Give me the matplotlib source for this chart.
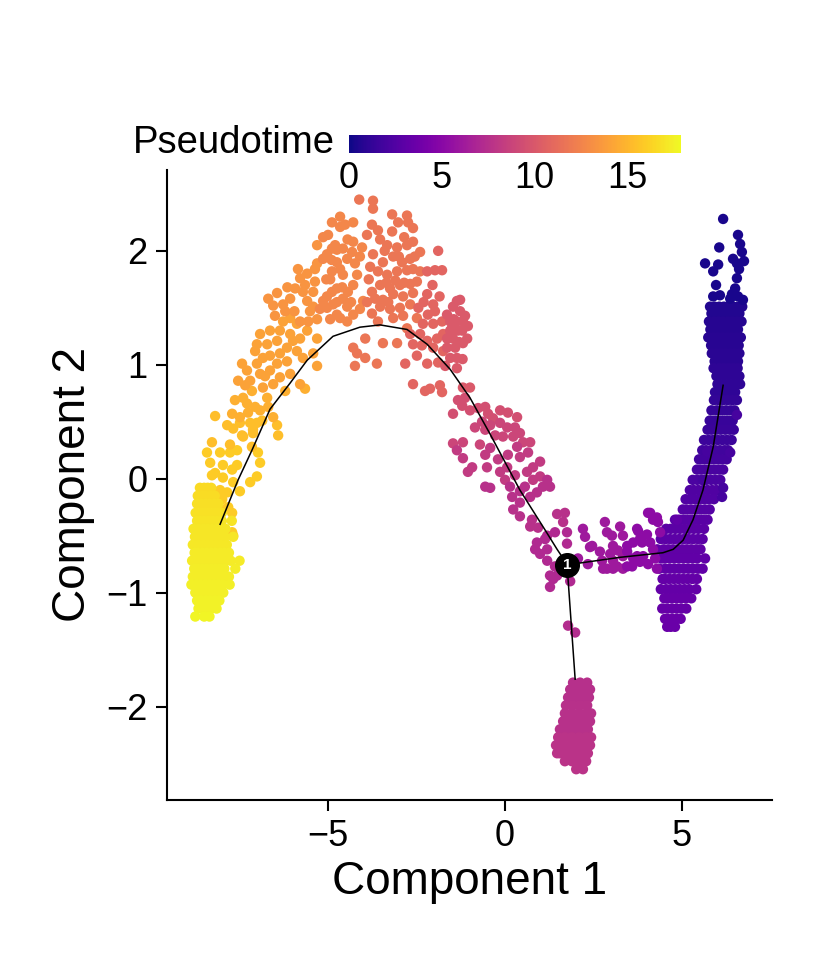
import numpy as np
import matplotlib
matplotlib.use("Agg")
import matplotlib.pyplot as plt
from matplotlib import colors, cm

plt.rcParams['font.family'] = ['Liberation Sans', 'DejaVu Sans']

T_MAX = 17.9  # top of the pseudotime colour scale

# dense clusters, read row by row: (component 2, pseudotime, [component 1 ...])
yellow_rows = [
    (-0.08, 16.6, [-8.62, -8.50, -8.40, -8.30]),
    (-0.15, 16.7, [-8.68, -8.55, -8.45, -8.32, -8.20]),
    (-0.22, 16.8, [-8.70, -8.58, -8.46, -8.35, -8.22, -8.10]),
    (-0.30, 16.9, [-8.74, -8.60, -8.48, -8.36, -8.24, -8.12, -8.00]),
    (-0.37, 17.0, [-8.70, -8.62, -8.50, -8.38, -8.26, -8.14, -8.00, -7.72]),
    (-0.44, 17.1, [-8.80, -8.65, -8.52, -8.40, -8.28, -8.15, -8.02, -7.90]),
    (-0.51, 17.1, [-8.76, -8.67, -8.55, -8.42, -8.30, -8.18, -8.05, -7.92, -7.68]),
    (-0.58, 17.2, [-8.82, -8.65, -8.52, -8.40, -8.28, -8.15, -8.03, -7.86]),
    (-0.65, 17.3, [-8.77, -8.68, -8.55, -8.43, -8.30, -8.18, -8.05, -7.93, -7.80]),
    (-0.72, 17.3, [-8.84, -8.65, -8.52, -8.40, -8.28, -8.15, -8.03, -7.90, -7.75, -7.50]),
    (-0.79, 17.4, [-8.78, -8.68, -8.55, -8.43, -8.30, -8.18, -8.05, -7.93, -7.62]),
    (-0.86, 17.4, [-8.82, -8.70, -8.57, -8.45, -8.32, -8.20, -8.08, -7.95, -7.80]),
    (-0.93, 17.5, [-8.86, -8.72, -8.60, -8.47, -8.35, -8.22, -8.10, -7.98, -7.78]),
    (-1.00, 17.5, [-8.75, -8.62, -8.50, -8.38, -8.25, -8.12, -7.96]),
    (-1.07, 17.6, [-8.70, -8.58, -8.45, -8.33, -8.20, -8.07]),
    (-1.14, 17.6, [-8.66, -8.55, -8.42, -8.30, -8.15]),
    (-1.21, 17.7, [-8.75, -8.50, -8.35]),
]

right_arm_rows = [
    (1.51, 0.6, [5.79, 5.92, 6.05, 6.18, 6.31, 6.44, 6.57, 6.70]),
    (1.45, 0.6, [5.83, 5.93, 6.06, 6.19, 6.32, 6.45, 6.62]),
    (1.38, 0.7, [5.76, 5.90, 6.03, 6.16, 6.29, 6.42, 6.55, 6.68]),
    (1.31, 0.7, [5.80, 5.89, 6.02, 6.15, 6.28, 6.41, 6.58]),
    (1.24, 0.8, [5.74, 5.88, 6.01, 6.14, 6.27, 6.40, 6.53, 6.66]),
    (1.17, 0.8, [5.82, 5.92, 6.05, 6.18, 6.31, 6.44, 6.60]),
    (1.10, 0.9, [5.84, 5.97, 6.10, 6.23, 6.36, 6.49, 6.62]),
    (1.03, 0.9, [5.92, 6.03, 6.16, 6.29, 6.42, 6.58]),
    (0.97, 1.0, [5.89, 6.05, 6.18, 6.31, 6.44, 6.57]),
    (0.90, 1.0, [5.97, 6.08, 6.21, 6.34, 6.47, 6.62]),
    (0.83, 1.1, [6.00, 6.12, 6.25, 6.38, 6.51, 6.64]),
    (0.76, 1.1, [5.93, 6.08, 6.21, 6.34, 6.50]),
    (0.69, 1.2, [5.90, 6.03, 6.16, 6.29, 6.42, 6.55]),
    (0.60, 1.3, [5.83, 5.98, 6.11, 6.24, 6.37, 6.48]),
    (0.51, 1.4, [5.78, 5.91, 6.04, 6.17, 6.30, 6.43]),
    (0.43, 1.5, [5.72, 5.83, 5.96, 6.09, 6.22, 6.35, 6.46]),
    (0.34, 1.6, [5.62, 5.75, 5.88, 6.01, 6.14, 6.27, 6.40]),
    (0.25, 1.8, [5.57, 5.68, 5.81, 5.94, 6.07, 6.20, 6.30]),
    (0.17, 1.9, [5.48, 5.61, 5.74, 5.87, 6.00, 6.13, 6.26]),
    (0.08, 2.1, [5.42, 5.53, 5.66, 5.79, 5.92, 6.05, 6.16]),
    (-0.01, 2.2, [5.30, 5.43, 5.56, 5.69, 5.82, 5.95, 6.08]),
    (-0.10, 2.4, [5.22, 5.33, 5.46, 5.59, 5.72, 5.85, 5.97]),
    (-0.18, 2.5, [5.10, 5.23, 5.36, 5.49, 5.62, 5.75, 5.90]),
    (-0.27, 2.6, [5.02, 5.13, 5.26, 5.39, 5.52, 5.65, 5.78]),
    (-0.36, 2.8, [4.80, 4.93, 5.06, 5.19, 5.32, 5.45, 5.58, 5.72]),
    (-0.44, 2.9, [4.55, 4.68, 4.81, 4.94, 5.07, 5.20, 5.33, 5.46, 5.62]),
    (-0.53, 3.0, [4.40, 4.53, 4.66, 4.79, 4.92, 5.05, 5.18, 5.31, 5.45, 5.58]),
    (-0.62, 3.1, [4.30, 4.48, 4.61, 4.74, 4.87, 5.00, 5.13, 5.26, 5.40, 5.52]),
    (-0.70, 3.2, [4.42, 4.51, 4.64, 4.77, 4.90, 5.03, 5.16, 5.29, 5.42, 5.65]),
    (-0.79, 3.2, [4.36, 4.53, 4.66, 4.79, 4.92, 5.05, 5.18, 5.31, 5.45, 5.58]),
    (-0.88, 3.3, [4.45, 4.51, 4.64, 4.77, 4.90, 5.03, 5.16, 5.29, 5.42]),
    (-0.97, 3.3, [4.40, 4.55, 4.68, 4.81, 4.94, 5.07, 5.20, 5.40]),
    (-1.05, 3.4, [4.50, 4.58, 4.71, 4.84, 4.97, 5.10, 5.26]),
    (-1.14, 3.4, [4.44, 4.59, 4.72, 4.85, 4.98, 5.12]),
    (-1.23, 3.5, [4.52, 4.59, 4.72, 4.85, 4.96]),
    (-1.30, 3.5, [4.58, 4.68, 4.80]),
]

branch_rows = [
    (-1.79, 7.5, [1.92, 2.12, 2.32]),
    (-1.85, 7.5, [1.84, 2.03, 2.23, 2.40]),
    (-1.92, 7.5, [1.78, 1.98, 2.18, 2.37]),
    (-1.99, 7.6, [1.72, 1.92, 2.12, 2.32]),
    (-2.06, 7.6, [1.69, 1.89, 2.09, 2.29, 2.43]),
    (-2.13, 7.6, [1.64, 1.84, 2.03, 2.23, 2.40]),
    (-2.20, 7.6, [1.55, 1.75, 1.95, 2.15, 2.34]),
    (-2.27, 7.7, [1.50, 1.69, 1.89, 2.09, 2.29, 2.43]),
    (-2.34, 7.7, [1.44, 1.64, 1.84, 2.03, 2.23, 2.40]),
    (-2.41, 7.7, [1.47, 1.55, 1.75, 1.95, 2.15, 2.34]),
    (-2.48, 7.7, [1.69, 1.89, 2.09, 2.29]),
    (-2.55, 7.7, [2.01, 2.20]),
]

# sparse cells, grouped by pseudotime: (pseudotime, [(component 1, component 2), ...])
sparse_groups = [
    (16.0, [(-8.42, 0.23), (-8.05, 0.23), (-7.77, 0.23), (-7.57, 0.25), (-6.98, 0.23),
            (-6.92, 0.14), (-7.01, 0.02), (-7.20, -0.03), (-7.49, -0.11), (-8.33, 0.14),
            (-8.19, 0.05), (-7.97, 0.12), (-7.71, 0.08), (-7.57, 0.12), (-7.97, 0.01),
            (-7.68, -0.03), (-8.28, 0.03), (-8.05, -0.10), (-7.85, -0.12), (-7.99, -0.18),
            (-7.82, -0.25), (-7.71, -0.30), (-7.71, -0.47), (-7.68, -0.50), (-7.97, -0.27)]),
    (15.4, [(-7.85, 0.47), (-7.68, 0.44), (-7.49, 0.49), (-7.01, 0.49), (-6.44, 0.47),
            (-6.41, 0.38), (-7.12, 0.40), (-7.43, 0.38), (-7.77, 0.30), (-8.28, 0.32),
            (-7.15, 0.28), (-8.19, 0.55), (-7.20, 0.49), (-7.12, 0.43), (-7.40, 0.37),
            (-6.86, 0.51)]),
    (14.7, [(-7.71, 0.57), (-7.49, 0.54), (-7.63, 0.69), (-7.40, 0.71), (-7.29, 0.66),
            (-7.15, 0.77), (-7.06, 0.63), (-6.92, 0.60), (-6.72, 0.71), (-6.55, 0.54),
            (-5.65, 0.79), (-7.26, 0.58), (-6.69, 0.63), (-6.21, 0.77)]),
    (14.1, [(-6.84, 0.80), (-7.43, 1.01), (-7.29, 0.95), (-7.01, 1.01), (-6.92, 0.92),
            (-6.64, 0.95), (-6.44, 1.01), (-6.36, 0.89), (-6.55, 0.83), (-6.84, 1.06),
            (-7.01, 1.18), (-6.72, 1.18), (-6.44, 1.21), (-6.36, 1.10), (-6.16, 1.03),
            (-6.16, 1.15), (-6.92, 1.27), (-6.64, 1.30), (-6.36, 1.30), (-6.07, 1.27),
            (-5.99, 1.21), (-5.79, 1.23), (-5.59, 1.30), (-5.88, 1.12), (-5.71, 1.06),
            (-6.07, 0.92), (-5.79, 0.83), (-5.42, 1.10), (-5.31, 0.99), (-5.31, 1.23),
            (-6.27, 1.38), (-6.07, 1.41), (-5.88, 1.36), (-7.20, 0.86), (-6.78, 0.90),
            (-7.06, 1.12), (-7.34, 0.82), (-6.64, 1.08), (-7.54, 0.86)]),
    (13.4, [(-6.69, 1.58), (-6.44, 1.63), (-6.27, 1.53), (-6.07, 1.58), (-5.93, 1.67),
            (-5.79, 1.76), (-5.71, 1.64), (-5.59, 1.56), (-5.51, 1.47), (-5.42, 1.64),
            (-5.85, 1.84), (-5.59, 1.80), (-5.37, 1.73), (-5.31, 1.89), (-5.31, 2.05),
            (-5.37, 1.84), (-5.42, 1.51), (-5.31, 1.40), (-6.21, 1.47), (-6.50, 1.43),
            (-5.79, 1.38), (-5.56, 1.38), (-6.55, 1.52), (-6.15, 1.68), (-5.95, 1.47),
            (-5.65, 1.70)]),
    (12.7, [(-5.14, 1.93), (-5.03, 1.97), (-4.89, 2.02), (-4.80, 2.05), (-5.14, 2.12),
            (-5.00, 2.14), (-4.89, 2.25), (-4.66, 2.30), (-4.52, 2.23), (-4.29, 2.25),
            (-4.66, 2.21), (-4.75, 2.01), (-4.58, 2.02), (-4.46, 1.93), (-4.75, 1.90),
            (-4.66, 1.84), (-4.58, 1.79), (-4.89, 1.82), (-4.94, 1.75), (-4.75, 1.67),
            (-4.89, 1.64), (-5.03, 1.60), (-5.14, 1.56), (-5.23, 1.49), (-5.03, 1.50),
            (-4.86, 1.53), (-4.75, 1.44), (-4.94, 1.40), (-4.58, 1.58), (-4.44, 1.64),
            (-4.29, 1.70), (-4.46, 1.51), (-4.66, 1.41), (-4.46, 1.38), (-4.29, 1.44),
            (-4.10, 1.49), (-4.01, 1.56), (-4.18, 1.79), (-4.24, 1.89), (-4.32, 1.99),
            (-4.10, 1.95), (-4.04, 2.03), (-4.29, 2.08), (-4.45, 2.10), (-4.90, 1.92),
            (-4.60, 1.68), (-4.35, 1.55), (-4.75, 1.55), (-5.05, 1.75)]),
    (11.8, [(-4.12, 2.45), (-3.73, 2.44), (-3.73, 2.37), (-3.19, 2.32), (-2.77, 2.31),
            (-3.02, 2.25), (-2.74, 2.25), (-2.60, 2.20), (-3.19, 2.17), (-3.90, 2.14),
            (-3.59, 2.18), (-3.76, 2.23), (-3.53, 2.10), (-3.33, 2.05), (-3.05, 2.03),
            (-2.77, 2.05), (-2.60, 2.08), (-2.40, 1.99), (-2.68, 1.93), (-2.91, 1.90),
            (-3.16, 1.95), (-3.45, 1.90), (-3.73, 1.97), (-3.81, 1.86), (-3.59, 1.82),
            (-3.33, 1.79), (-3.05, 1.82), (-2.77, 1.83), (-2.60, 1.84), (-2.40, 1.82),
            (-2.49, 1.73), (-2.68, 1.71), (-2.97, 1.70), (-3.25, 1.67), (-3.53, 1.70),
            (-3.76, 1.64), (-3.67, 1.58), (-3.45, 1.57), (-3.16, 1.62), (-2.88, 1.60),
            (-2.60, 1.63), (-2.68, 1.53), (-2.97, 1.50), (-3.25, 1.49), (-3.53, 1.51),
            (-3.76, 1.45), (-3.59, 1.38), (-3.16, 1.41), (-2.88, 1.43), (-2.49, 1.41),
            (-2.77, 1.32), (-3.05, 1.19), (-3.45, 1.19), (-3.95, 1.23), (-4.29, 1.15),
            (-4.18, 1.10), (-3.95, 1.06), (-4.24, 0.99), (-3.62, 1.01), (-3.40, 2.00),
            (-3.00, 1.95), (-2.85, 2.12), (-3.35, 1.72), (-3.10, 1.74), (-2.85, 1.72),
            (-3.90, 1.55), (-3.85, 1.75), (-3.30, 1.55), (-2.55, 1.95)]),
    (10.8, [(-2.20, 1.82), (-1.98, 1.83), (-1.78, 1.83), (-1.89, 2.00), (-2.20, 1.62),
            (-2.03, 1.53), (-2.18, 1.44), (-2.32, 1.36), (-2.03, 1.36), (-1.78, 1.38),
            (-1.75, 1.27), (-1.92, 1.23), (-2.20, 1.21), (-2.40, 1.27), (-2.60, 1.18),
            (-2.68, 1.27), (-2.20, 1.01), (-2.49, 1.08), (-2.82, 1.01), (-2.60, 0.83),
            (-2.26, 0.77), (-2.12, 0.79), (-1.78, 0.76), (-1.84, 0.82), (-1.75, 1.12),
            (-1.89, 1.02), (-2.03, 1.15), (-2.35, 1.17), (-1.98, 1.47), (-2.05, 1.70),
            (-2.30, 1.55), (-1.85, 1.60), (-2.45, 1.50)]),
    (10.1, [(-1.64, 1.44), (-1.47, 1.51), (-1.36, 1.56), (-1.27, 1.47), (-1.36, 1.38),
            (-1.19, 1.38), (-1.05, 1.34), (-1.50, 1.32), (-1.64, 1.15), (-1.55, 1.06),
            (-1.36, 1.06), (-1.41, 1.15), (-1.19, 1.19), (-1.07, 1.23), (-1.21, 1.30),
            (-1.47, 1.23), (-1.64, 1.23), (-1.69, 0.99), (-1.36, 0.97), (-1.19, 0.80),
            (-0.99, 0.80), (-1.33, 1.30), (-1.13, 1.43), (-1.55, 1.38), (-1.27, 1.57),
            (-1.45, 1.40), (-1.30, 1.20), (-1.55, 1.30), (-1.20, 1.05)]),
    (9.5, [(-1.47, 0.57), (-1.21, 0.64), (-0.99, 0.60), (-0.76, 0.62), (-0.56, 0.63),
           (-0.48, 0.57), (-0.14, 0.60), (0.08, 0.58), (0.34, 0.54), (-0.34, 0.53),
           (-1.33, 0.69), (-1.13, 0.71)]),
    (8.9, [(-0.65, 0.50), (-0.85, 0.45), (-0.56, 0.43), (-0.42, 0.47), (-0.14, 0.49),
           (0.06, 0.45), (0.28, 0.45), (0.42, 0.40), (0.23, 0.37), (-0.06, 0.37),
           (-0.28, 0.38), (-1.47, 0.31), (-1.19, 0.32), (-0.71, 0.30), (0.71, 0.32),
           (0.51, 0.32)]),
    (8.2, [(-1.36, 0.25), (-1.19, 0.18), (-0.93, 0.10), (-1.05, 0.06), (-0.56, 0.21),
           (-0.42, 0.27), (-0.20, 0.17), (0.08, 0.21), (0.34, 0.28), (0.65, 0.23),
           (0.42, 0.19), (-0.14, 0.06), (0.06, 0.10), (0.28, 0.03), (-0.51, 0.10),
           (0.99, 0.15), (0.79, 0.10), (0.62, 0.06), (0.00, -0.01), (0.79, -0.01),
           (0.99, 0.02)]),
    (7.6, [(-0.56, -0.07), (-0.42, -0.08), (0.14, -0.07), (0.20, -0.16), (0.42, -0.11),
           (0.56, -0.07), (0.42, -0.21), (0.71, -0.16), (0.90, -0.12), (1.19, -0.01),
           (1.27, -0.07), (1.07, -0.07), (0.23, -0.27), (0.42, -0.33), (0.76, -0.36),
           (0.93, -0.43), (0.71, -0.42), (1.47, -0.31), (1.69, -0.30), (1.64, -0.38)]),
    (7.1, [(1.41, -0.47), (1.75, -0.47), (1.19, -0.50), (0.90, -0.56), (0.85, -0.62),
           (0.99, -0.66), (1.19, -0.62), (1.19, -0.72), (1.27, -0.85), (1.36, -0.88),
           (1.47, -0.85), (1.27, -0.95), (1.41, -0.77), (1.75, -0.57), (1.84, -0.90),
           (1.13, -0.53)]),
    (7.3, [(1.78, -1.29), (1.98, -1.35)]),
    (6.1, [(2.20, -0.44), (2.26, -0.51), (2.40, -0.60), (2.68, -0.64), (2.82, -0.38),
           (2.88, -0.47), (3.02, -0.50), (3.05, -0.59), (3.25, -0.42), (3.33, -0.50),
           (2.74, -0.72), (2.88, -0.79), (3.16, -0.77), (2.97, -0.66), (3.33, -0.68),
           (3.05, -0.72), (2.46, -0.59), (2.77, -0.79), (3.05, -0.79), (3.33, -0.79),
           (3.19, -0.63), (2.06, -0.70), (2.34, -0.75)]),
    (5.2, [(3.45, -0.59), (3.62, -0.56), (3.76, -0.46), (3.81, -0.53), (4.01, -0.49),
           (4.10, -0.56), (4.18, -0.62), (4.04, -0.30), (4.18, -0.36), (4.32, -0.38),
           (4.38, -0.47), (3.45, -0.77), (3.62, -0.70), (3.81, -0.70), (3.73, -0.44),
           (3.87, -0.56), (4.10, -0.30), (4.29, -0.34), (3.59, -0.77), (3.81, -0.73),
           (4.04, -0.75), (4.24, -0.70), (4.29, -0.79), (3.45, -0.64), (3.73, -0.68),
           (3.90, -0.68)]),
    (3.2, [(4.86, -0.36)]),
    (2.0, [(5.71, 0.24), (5.59, -0.01), (6.36, 0.23), (6.55, 0.56), (6.13, -0.16),
           (6.16, -0.08)]),
    (0.3, [(6.16, 2.28), (6.58, 2.14), (6.05, 2.03), (6.64, 2.06), (6.69, 1.99),
           (5.65, 1.89), (6.02, 1.88), (5.88, 1.82), (6.44, 1.93), (6.55, 1.89),
           (6.75, 1.91), (6.61, 1.84), (6.55, 1.76), (5.96, 1.70), (6.50, 1.67),
           (6.41, 1.62), (5.88, 1.60), (6.07, 1.61), (6.58, 1.60), (6.72, 1.57),
           (6.36, 1.58)]),
]

# principal graph (trajectory backbone)
path_main_x = [-8.05, -7.54, -7.15, -6.64, -6.07, -5.59, -4.86, -4.10, -3.53, -2.77,
               -2.20, -1.55, -0.99, -0.42, 0.42, 1.13, 1.47, 1.75]
path_main_y = [-0.40, -0.01, 0.25, 0.61, 0.84, 1.04, 1.25, 1.33, 1.35, 1.31,
               1.18, 0.96, 0.71, 0.39, -0.10, -0.45, -0.62, -0.75]
path_right_x = [1.75, 2.12, 3.25, 4.46, 4.75, 5.03, 5.31, 5.59, 5.88, 6.16]
path_right_y = [-0.75, -0.74, -0.69, -0.65, -0.62, -0.54, -0.36, -0.10, 0.28, 0.82]
path_low_x = [1.75, 1.98]
path_low_y = [-0.75, -1.76]
branch_point = (1.75, -0.76)

# flatten everything into cell arrays
cx, cy, ct = [], [], []
for rows in (right_arm_rows, branch_rows):
    for yv, tv, xs in rows:
        for xv in xs:
            cx.append(xv); cy.append(yv); ct.append(tv)
for tv, pts in sparse_groups:
    for xv, yv in pts:
        cx.append(xv); cy.append(yv); ct.append(tv)
for yv, tv, xs in yellow_rows:
    for xv in xs:
        cx.append(xv); cy.append(yv); ct.append(tv)

fig = plt.figure(figsize=(8.23, 9.6), dpi=100)
ax = fig.add_axes([0.2029, 0.1667, 0.7351, 0.65625])

norm = colors.Normalize(vmin=0, vmax=T_MAX)
ax.scatter(cx, cy, c=ct, cmap='plasma', norm=norm, s=56, linewidths=0, zorder=2)

for px, py in ((path_main_x, path_main_y), (path_right_x, path_right_y), (path_low_x, path_low_y)):
    ax.plot(px, py, color='black', lw=1.1, zorder=3)

ax.plot(branch_point[0], branch_point[1], 'o', color='black', ms=17, zorder=4)
ax.text(branch_point[0], branch_point[1], '1', color='white', fontsize=11,
        fontweight='bold', ha='center', va='center', zorder=5)

ax.set_xlim(-9.55, 7.54)
ax.set_ylim(-2.82, 2.71)
ax.set_xticks([-5, 0, 5])
ax.set_yticks([-2, -1, 0, 1, 2])
ax.spines['top'].set_visible(False)
ax.spines['right'].set_visible(False)
for sp in ('left', 'bottom'):
    ax.spines[sp].set_linewidth(1.5)
ax.tick_params(direction='out', length=8, width=1.5, labelsize=26, pad=6)
ax.set_xlabel('Component 1', fontsize=33, labelpad=4)
ax.set_ylabel('Component 2', fontsize=33, labelpad=8)

# colour bar on top
cax = fig.add_axes([0.424, 0.8406, 0.403, 0.0188])
cb = fig.colorbar(cm.ScalarMappable(norm=norm, cmap='plasma'), cax=cax,
                  orientation='horizontal', ticks=[0, 5, 10, 15])
cb.outline.set_visible(False)
cax.tick_params(length=0, labelsize=26, pad=6)
fig.text(335 / 823, 1 - 153 / 960, 'Pseudotime', fontsize=27.5, ha='right', va='baseline')

fig.savefig('out.png', dpi=100)
